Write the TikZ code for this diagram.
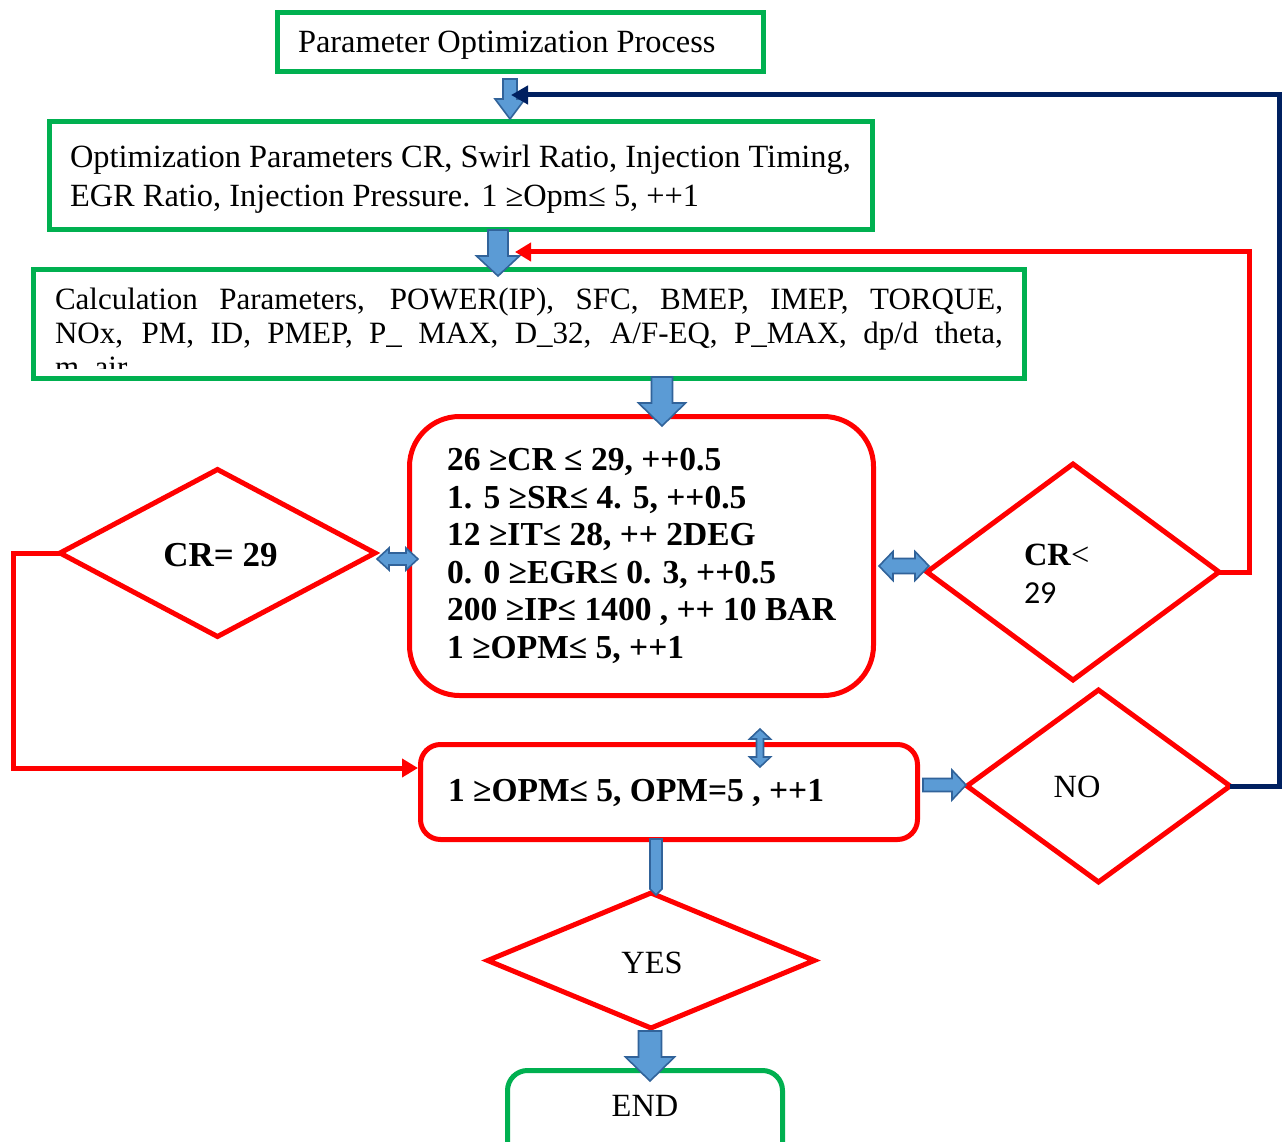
\documentclass[tikz,border=0pt]{standalone}
\usepackage{fontspec}
\setmainfont{Liberation Serif}
\newfontfamily\calib{Carlito}
\usetikzlibrary{shapes.geometric,arrows.meta}

\definecolor{boxgreen}{HTML}{00B050}
\definecolor{boxred}{HTML}{FF0000}
\definecolor{loopnavy}{HTML}{002060}
\definecolor{blockfill}{HTML}{5B9BD5}
\definecolor{blockedge}{HTML}{31639A}

\tikzset{
  greenbox/.style={draw=boxgreen, line width=5pt, rectangle, inner sep=0pt, outer sep=0pt},
  redround/.style={draw=boxred, line width=5pt, rectangle, inner sep=0pt, outer sep=0pt},
  decision/.style={draw=boxred, line width=5pt, diamond, inner sep=0pt, outer sep=0pt},
  txt/.style={inner sep=0pt, outer sep=0pt, font=\fontsize{32.4}{38}\selectfont},
  boldtxt/.style={inner sep=0pt, outer sep=0pt, font=\bfseries\fontsize{33.5}{38}\selectfont},
  block/.style={fill=blockfill, draw=blockedge, line width=1.6pt, line join=miter},
  redflow/.style={draw=boxred, line width=5pt, -{Triangle[length=16pt,width=18pt]}},
  navyflow/.style={draw=loopnavy, line width=5pt, -{Triangle[length=17pt,width=18pt]}},
}

% downward block arrow: x, top, head start, tip, shaft half width, head half width
\newcommand\dnblock[6]{%
  \draw[block] ({#1-#5},#2) -- ({#1+#5},#2) -- ({#1+#5},#3) -- ({#1+#6},#3)
    -- (#1,#4) -- ({#1-#6},#3) -- ({#1-#5},#3) -- cycle;}
% horizontal double-headed block arrow: left, right, y, head length, shaft half, head half
\newcommand\hdblblock[6]{%
  \draw[block] (#1,#3) -- ({#1+#4},{#3-#6}) -- ({#1+#4},{#3-#5}) -- ({#2-#4},{#3-#5})
    -- ({#2-#4},{#3-#6}) -- (#2,#3) -- ({#2-#4},{#3+#6}) -- ({#2-#4},{#3+#5})
    -- ({#1+#4},{#3+#5}) -- ({#1+#4},{#3+#6}) -- cycle;}
% vertical double-headed block arrow: x, top, bottom, head length, shaft half, head half
\newcommand\vdblblock[6]{%
  \draw[block] (#1,#2) -- ({#1+#6},{#2+#4}) -- ({#1+#5},{#2+#4}) -- ({#1+#5},{#3-#4})
    -- ({#1+#6},{#3-#4}) -- (#1,#3) -- ({#1-#6},{#3-#4}) -- ({#1-#5},{#3-#4})
    -- ({#1-#5},{#2+#4}) -- ({#1-#6},{#2+#4}) -- cycle;}

\begin{document}
\begin{tikzpicture}[x=1pt, y=-1pt]
\fill[white] (0,0) rectangle (1283,1142);
\useasboundingbox (0,0) rectangle (1283,1142);

% process boxes
\node[greenbox, minimum width=485.5pt, minimum height=59pt] (start) at (520.25,42.5) {};
\node[txt, anchor=base west] (starttxt) at (298,53) {Parameter Optimization Process};

\node[greenbox, minimum width=823pt, minimum height=108pt] (optpar) at (461,175.5) {};
\node[txt, anchor=base west] (optpar1) at (70,168) {Optimization Parameters CR, Swirl Ratio, Injection Timing,};
\node[txt, anchor=base west] (optpar2) at (70,207) {EGR Ratio, Injection Pressure. 1 ≥Opm≤ 5, ++1};

\node[greenbox, minimum width=991pt, minimum height=109pt] (calc) at (529,324) {};
\begin{scope}
  \clip (36,272) rectangle (1022,368);
  \node[inner sep=0pt, outer sep=0pt, anchor=base west, font=\fontsize{31}{34}\selectfont] (calctxt) at (55,309)
    {\parbox[t]{948pt}{Calculation Parameters, POWER(IP), SFC, BMEP, IMEP, TORQUE,\linebreak
     NOx, PM, ID, PMEP, P\_ MAX, D\_32, A/F-EQ, P\_MAX, dp/d theta,\linebreak m\_air}};
\end{scope}

% parameter ranges
\node[redround, rounded corners=50pt, minimum width=464pt, minimum height=279pt,
      align=left, font=\bfseries\fontsize{33.5}{37.6}\selectfont] (ranges) at (641.5,556)
  {26 ≥CR ≤ 29, ++0.5\\
   1. 5 ≥SR≤ 4. 5, ++0.5\\
   12 ≥IT≤ 28, ++ 2DEG\\
   0. 0 ≥EGR≤ 0. 3, ++0.5\\
   200 ≥IP≤ 1400 , ++ 10 BAR\\
   1 ≥OPM≤ 5, ++1};

\node[redround, rounded corners=20pt, minimum width=497pt, minimum height=95pt] (opmbox) at (669,792) {};
\node[boldtxt, anchor=base west] (opmtxt) at (448,801) {1 ≥OPM≤ 5, OPM=5 , ++1};

% decisions
\node[decision, minimum width=315pt, minimum height=167pt] (creq) at (217.5,553) {};
\node[boldtxt, anchor=base, font=\bfseries\fontsize{35}{38}\selectfont] (creqtxt) at (220.5,566) {CR= 29};

\node[decision, minimum width=292pt, minimum height=216pt] (crless) at (1073,572) {};
\node[txt, anchor=base west] (crlesstxt) at (1024,565) {\textbf{CR}<};
\node[inner sep=0pt, outer sep=0pt, anchor=base west, font=\calib\fontsize{32}{38}\selectfont] (crlessnum) at (1024,603) {29};

\node[decision, minimum width=263pt, minimum height=192pt] (no) at (1098.5,786) {};
\node[txt, anchor=base] (notxt) at (1077,797) {NO};

\node[decision, minimum width=326.5pt, minimum height=135pt] (yes) at (651,960.5) {};
\node[txt, anchor=base] (yestxt) at (652,973) {YES};

% end terminal, cut by the lower page edge
\begin{scope}
  \clip (0,0) rectangle (1283,1142);
  \node[greenbox, rounded corners=20pt, minimum width=275pt, minimum height=100pt] (finish) at (645,1120.5) {};
\end{scope}
\node[txt, anchor=base] (finishtxt) at (645,1116) {END};

% block arrows between the steps
\dnblock{510}{79}{99}{119}{7}{15}
\dnblock{498}{230}{256}{276}{10}{21.5}
\dnblock{662}{377}{403}{426}{10.5}{23.5}
\dnblock{650}{1031}{1057}{1081}{11.5}{24.5}
\draw[block] (650,839) -- (662,839) -- (662,889) -- (656,895) -- (650,889) -- cycle;
\hdblblock{377}{418}{559}{12}{6}{11}
\hdblblock{879}{929}{566}{14}{7.5}{14.5}
\vdblblock{760}{729}{767}{10}{3.5}{10.5}
\draw[block] (923,778.5) -- (952,778.5) -- (952,770) -- (966,785) -- (952,800) -- (952,791.5) -- (923,791.5) -- cycle;

% feedback loops
\coordinate (optin) at (511,95);
\coordinate (calcin) at (515,252);
\coordinate (opmin) at (418,768);
\draw[redflow] (crless.east) -- ++(30,0) |- (calcin);
\draw[redflow] (creq.west) -- ++(-47,0) |- (opmin);
\draw[navyflow] (no.east) -- ++(49,0) |- (optin);
\end{tikzpicture}
\end{document}
